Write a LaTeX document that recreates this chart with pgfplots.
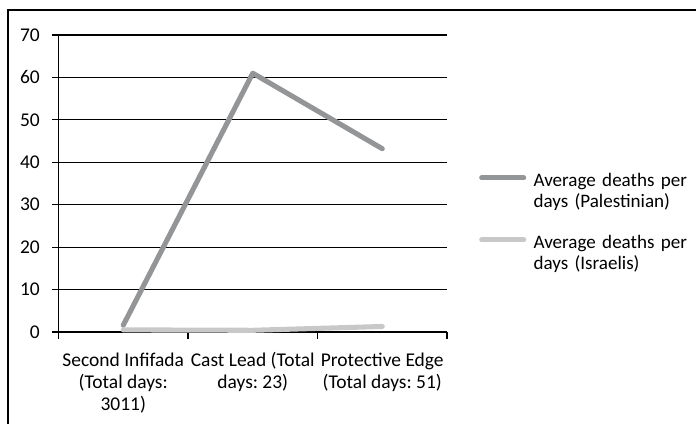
\documentclass[border=0pt]{standalone}
\usepackage{fontspec}
\setmainfont{Carlito}
\usepackage{pgfplots}
\pgfplotsset{compat=1.18}
\definecolor{palgray}{RGB}{148,149,151}
\definecolor{isrgray}{RGB}{200,200,200}
\newcommand{\lblfont}{\fontsize{14.6}{16.5}\selectfont}
\newcommand{\legfont}{\fontsize{14.3}{15.5}\selectfont}
\frenchspacing
\begin{document}
\begin{tikzpicture}[x=1pt,y=1pt]
\useasboundingbox (0,0) rectangle (522,318);
\begin{scope}
\clip (0,0) rectangle (522,318);
\draw[line width=1.1pt] (6,-20) rectangle (560,310.5);
\end{scope}
\begin{axis}[
  at={(43.875pt,69pt)}, anchor=south west,
  scale only axis, width=291.4pt, height=222.75pt,
  xmin=-0.5, xmax=2.5, ymin=0, ymax=70,
  axis x line*=bottom, axis y line*=left,
  axis line style={line width=0.9pt, black},
  ytick={0,10,...,70},
  ymajorgrids, grid style={line width=0.9pt, black},
  xtick={-0.5,0.5,1.5,2.5}, xticklabels={},
  extra x ticks={0,1,2},
  extra x tick labels={Second Infifada\\(Total days:\\3011), Cast Lead (Total\\days: 23), Protective Edge\\(Total days: 51)},
  extra x tick style={major tick length=0pt, grid=none,
    xticklabel style={align=center, anchor=north, yshift=-12pt}},
  tick align=outside, major tick length=5pt,
  tick style={line width=0.9pt, black},
  /pgf/number format/assume math mode=true,
  every tick label/.append style={font=\lblfont},
  yticklabel style={xshift=-5.5pt},
  clip=false,
  legend style={at={(1.082,0.535)}, anchor=north west, draw=none, fill=none,
    inner sep=0pt, row sep=35pt, column sep=5.5pt,
    font=\legfont, nodes={text width=130pt, align=left, inner sep=0pt},
    cells={anchor=base west}},
  legend image code/.code={
    \path (0pt,6.5pt) -- (31.5pt,6.5pt);
    \draw[#1, line cap=round] (1.9pt,6.5pt) -- (29.6pt,6.5pt);},
]
\addplot[palgray, line width=3.8pt, line cap=round, line join=round]
  coordinates {(0,1.6) (1,61) (2,43.2)};
\addlegendentry{Average deaths per\\days (Palestinian)}
\addplot[isrgray, line width=3.8pt, line cap=round, line join=round]
  coordinates {(0,0.5) (1,0.4) (2,1.3)};
\addlegendentry{Average deaths per\\days (Israelis)}
\end{axis}
\end{tikzpicture}
\end{document}
